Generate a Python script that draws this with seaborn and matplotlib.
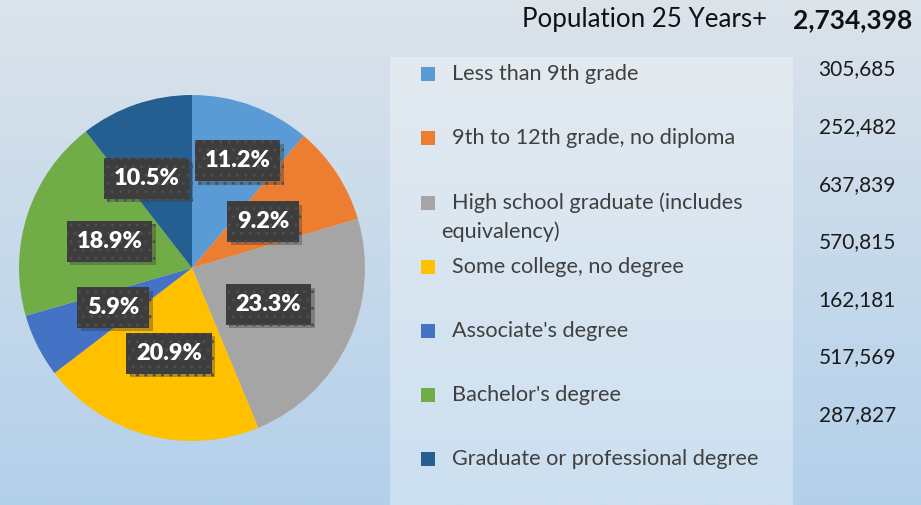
import numpy as np
import matplotlib
matplotlib.use("Agg")
import matplotlib.pyplot as plt
import matplotlib.patheffects as pe
from matplotlib.patches import Rectangle
import seaborn as sns

# data
categories = [
    "Less than 9th grade",
    "9th to 12th grade, no diploma",
    "High school graduate (includes\nequivalency)",
    "Some college, no degree",
    "Associate's degree",
    "Bachelor's degree",
    "Graduate or professional degree",
]
counts = [305685, 252482, 637839, 570815, 162181, 517569, 287827]
total_label = "2,734,398"
title_text = "Population 25 Years+"

colors = ["#5B9BD5", "#ED7D31", "#A5A5A5", "#FFC000", "#4472C4", "#70AD47", "#255E91"]

W, H = 921, 505
sns.set_theme(style="white")
plt.rcParams["font.family"] = ["Lato", "DejaVu Sans"]


def fx(x):
    return x / W


def fy(y):
    return 1 - y / H


fig = plt.figure(figsize=(W / 100, H / 100), dpi=100)

# background gradient
bg = fig.add_axes([0, 0, 1, 1], zorder=0)
top = np.array([0xDB, 0xE3, 0xEB]) / 255
bot = np.array([0xB3, 0xD0, 0xEA]) / 255
t = np.linspace(0, 1, 256)[:, None, None]
grad = top * (1 - t) + bot * t
grad = np.repeat(grad, 2, axis=1)
bg.imshow(grad, aspect="auto", extent=[0, 1, 0, 1])
bg.axis("off")

# legend panel
fig.patches.append(Rectangle((fx(390), 0), fx(793) - fx(390), fy(57), transform=fig.transFigure,
                             facecolor="white", alpha=0.33, edgecolor="none", zorder=1))

# pie
cx, cy, r = 192, 268, 173
ax = fig.add_axes([fx(cx - r), fy(cy + r), 2 * r / W, 2 * r / H], zorder=2)
wedges, _ = ax.pie(counts, colors=colors, startangle=90, counterclock=False,
                   wedgeprops=dict(linewidth=0))
ax.set_xlim(-1, 1)
ax.set_ylim(-1, 1)
ax.set_aspect("equal")
ax.axis("off")

label_dist = [0.66, 0.49, 0.49, 0.51, 0.51, 0.50, 0.59]
nudge = {0: (0.035, 0), 6: (-0.07, -0.04)}
tot = sum(counts)
for i, w in enumerate(wedges):
    ang = np.deg2rad((w.theta1 + w.theta2) / 2)
    dx, dy = nudge.get(i, (0, 0))
    x = label_dist[i] * np.cos(ang) + dx
    y = label_dist[i] * np.sin(ang) + dy
    txt = ax.text(x, y, f"{counts[i] / tot * 100:.1f}%", ha="center", va="center",
                  color="white", fontsize=16.8, fontweight="heavy",
                  bbox=dict(boxstyle="square,pad=0.42", facecolor="#3d3d3d",
                            edgecolor="#4e4e4e", hatch="..", linewidth=0))
    txt.get_bbox_patch().set_path_effects([
        pe.SimplePatchShadow(offset=(2.5, -2.5), shadow_rgbFace="#333333", alpha=0.35),
        pe.Normal()])

# legend entries
leg_rows = [74, 138, 203, 267, 331, 395, 459]
for i, name in enumerate(categories):
    y = leg_rows[i]
    fig.patches.append(Rectangle((fx(421), fy(y + 7)), 14 / W, 14 / H, transform=fig.transFigure,
                                 facecolor=colors[i], edgecolor="none", zorder=3))
    lines = name.split("\n")
    fig.text(fx(452), fy(y), lines[0], ha="left", va="center", fontsize=15.6,
             color="#404040", zorder=4)
    if len(lines) > 1:
        fig.text(fx(441), fy(y + 29), lines[1], ha="left", va="center", fontsize=15.6,
                 color="#404040", zorder=4)

# counts column
num_rows = [69, 127, 185, 242, 300, 357, 415]
for v, y in zip(counts, num_rows):
    fig.text(fx(896), fy(y), f"{v:,}", ha="right", va="center", fontsize=15,
             color="#1a1a1a", zorder=4)

# title
fig.text(fx(767), fy(20), title_text, ha="right", va="center", fontsize=18.6,
         color="#111111", zorder=4)
fig.text(fx(912), fy(20), total_label, ha="right", va="center", fontsize=19,
         fontweight="bold", color="#111111", zorder=4)

fig.savefig("out.png", dpi=100)
